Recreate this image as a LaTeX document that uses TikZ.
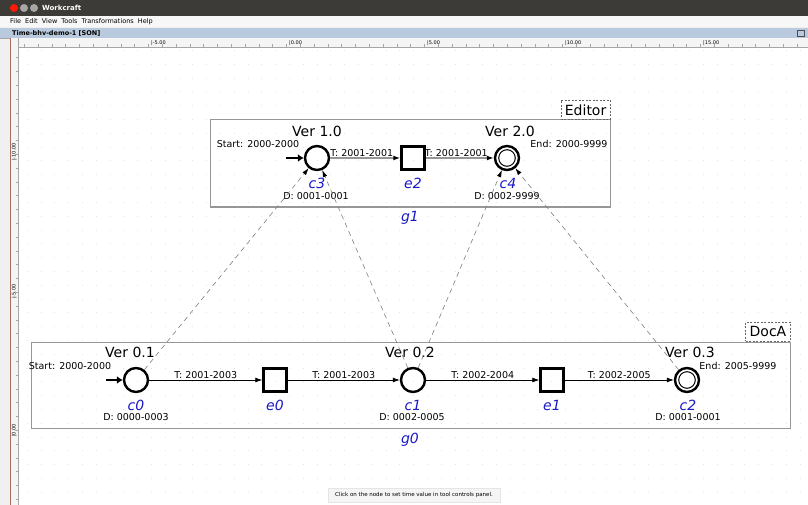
\documentclass[tikz,border=0pt]{standalone}
\usepackage{fontspec}
\setmainfont{DejaVu Sans}
\usetikzlibrary{positioning,arrows.meta}
\definecolor{wcblue}{RGB}{25,25,200}
\definecolor{wcbar}{RGB}{60,59,55}
\definecolor{wctab}{RGB}{186,202,222}
\definecolor{wcline}{RGB}{150,150,150}
\definecolor{wcedge}{RGB}{170,110,95}

\begin{document}
\begin{tikzpicture}[
  x=1pt, y=-1pt,
  big/.style={font=\fontsize{14}{16}\selectfont, inner sep=1pt},
  small/.style={font=\fontsize{9.5}{11}\selectfont, inner sep=1pt},
  nm/.style={font=\fontsize{14}{16}\selectfont\itshape, text=wcblue, inner sep=1pt},
  cond/.style={circle, draw, line width=2.4pt, minimum size=24pt, inner sep=0pt},
  evt/.style={rectangle, draw, line width=2.4pt, minimum size=23pt, inner sep=0pt},
  arc/.style={-{Latex[length=7pt,width=5pt]}, line width=0.8pt},
  hiarc/.style={-{Latex[length=7pt,width=5pt,color=black]}, draw=wcline, line width=1.6pt},
  link/.style={-{Latex[length=7pt,width=4.5pt,color=black]}, draw=gray, line width=0.6pt,
               dash pattern=on 5pt off 4pt},
  start/.style={-{Latex[length=6pt,width=8pt]}, line width=2.8pt},
  group/.style={draw=wcline, line width=1pt, inner sep=0pt},
  tag/.style={draw=gray!80!black, dash pattern=on 2pt off 1.5pt, fill=white,
              font=\fontsize{14}{16}\selectfont, minimum height=19pt, inner xsep=4pt},
  gridline/.style={draw=gray!22, line width=1pt, dash pattern=on 1pt off 12.8pt},
  ui/.style={font=\fontsize{6.5}{7}\selectfont, inner sep=0pt, anchor=west},
]
\useasboundingbox (0,0) rectangle (808,505);

% window
\fill[gray!12] (0,0) rectangle (808,505);
\fill[white] (18,47) rectangle (808,505);
\foreach \y in {50.6,64.4,...,505} \draw[gridline] (26.8,\y) -- (808,\y);
\fill[wcbar] (0,0) rectangle (808,16);
\fill[red!80!orange] (14,8) circle (4);
\fill[gray!70] (24,8) circle (4);
\fill[gray!70] (34,8) circle (4);
\node[ui, text=white, font=\fontsize{7}{8}\selectfont\bfseries] (title) at (42,8) {Workcraft};
\fill[gray!6] (0,16) rectangle (808,27);
\node[ui] (menu) at (10,21.5) {File\ \ Edit\ \ View\ \ Tools\ \ Transformations\ \ Help};
\fill[wctab] (0,28) rectangle (808,38);
\draw[gray!70] (0,38) -- (808,38);
\node[ui, font=\fontsize{6.5}{7}\selectfont\bfseries] (tab) at (12,33) {Time-bhv-demo-1 [SON]};
\draw[gray!60!black] (797,30) rectangle (804,36);
\fill[gray!8] (18,38) rectangle (808,47);
\fill[gray!8] (11,38) rectangle (18,505);
\draw[wcedge, line width=1.2pt] (10.5,38) -- (10.5,505);
\draw[gray!70] (18,47) -- (808,47) (18,38) -- (18,505);
\foreach \x in {24.2,38,...,808} \draw[gray!70] (\x,44.5) -- (\x,47);
\foreach \x/\t in {151/-5.00,289/0.00,427/5.00,565/10.00,703/15.00}
  \node[font=\fontsize{5}{5}\selectfont, inner sep=0pt, anchor=south west] at (\x,46) {|\t};
\foreach \y in {57.6,71.4,...,505} \draw[gray!70] (15.5,\y) -- (18,\y);
\foreach \y/\t in {161/-10.00,299/-5.00,437/0.00}
  \node[font=\fontsize{5}{5}\selectfont, inner sep=0pt, anchor=south west, rotate=90] at (17,\y) {|\t};

% Editor
\node[group, minimum width=400pt, minimum height=87pt] (g1box) at (410,163.5) {};
\node[tag, anchor=south east] (editor) at (g1box.north east) {Editor};
\node[nm] (g1) at (410,218) {g1};

\node[cond] (c3) at (317,158) {};
\node[evt] (e2) at (413,158) {};
\node[cond] (c4) at (507,158) {};
\draw[line width=1pt] (c4.center) circle (8.3);

\node[big] (v10) at (317,131) {Ver 1.0};
\node[big] (v20) at (510,131) {Ver 2.0};
\node[small] (st3) at (258,144) {Start: 2000-2000};
\node[small] (en4) at (569,144) {End: 2000-9999};
\node[nm] (c3n) at (317,183) {c3};
\node[nm] (e2n) at (413,183) {e2};
\node[nm] (c4n) at (508,183) {c4};
\node[small] (d3) at (316,196) {D: 0001-0001};
\node[small] (d4) at (507,196) {D: 0002-9999};

\coordinate (in3) at (286,158);
\draw[start] (in3) -- (c3);
\draw[hiarc] (c3) -- node[small, above, pos=0.45] {T: 2001-2001} (e2);
\draw[hiarc] (e2) -- node[small, above, pos=0.45] {T: 2001-2001} (c4);

% DocA
\node[group, minimum width=759pt, minimum height=86pt] (g0box) at (410.5,385) {};
\node[tag, anchor=south east] (doca) at (g0box.north east) {DocA};
\node[nm] (g0) at (410,440) {g0};

\node[cond] (c0) at (136,380) {};
\node[evt] (e0) at (275,380) {};
\node[cond] (c1) at (413,380) {};
\node[evt] (e1) at (552,380) {};
\node[cond] (c2) at (687,380) {};
\draw[line width=1pt] (c2.center) circle (8.3);

\node[big] (v01) at (130,352) {Ver 0.1};
\node[big] (v02) at (410,352) {Ver 0.2};
\node[big] (v03) at (690,352) {Ver 0.3};
\node[small] (st0) at (70,366) {Start: 2000-2000};
\node[small] (en2) at (738,366) {End: 2005-9999};
\node[nm] (c0n) at (136,405) {c0};
\node[nm] (e0n) at (275,405) {e0};
\node[nm] (c1n) at (413,405) {c1};
\node[nm] (e1n) at (552,405) {e1};
\node[nm] (c2n) at (688,405) {c2};
\node[small] (d0) at (136,417) {D: 0000-0003};
\node[small] (d1) at (412,417) {D: 0002-0005};
\node[small] (d2) at (688,417) {D: 0001-0001};

\coordinate (in0) at (106,380);
\draw[start] (in0) -- (c0);
\draw[arc] (c0) -- node[small, above] {T: 2001-2003} (e0);
\draw[arc] (e0) -- node[small, above] {T: 2001-2003} (c1);
\draw[arc] (c1) -- node[small, above] {T: 2002-2004} (e1);
\draw[arc] (e1) -- node[small, above] {T: 2002-2005} (c2);

% links between the two groups
\draw[link] (c0) -- (c3);
\draw[link] (c1) -- (c3);
\draw[link] (c1) -- (c4);
\draw[link] (c2) -- (c4);

% status
\node[font=\fontsize{5.5}{6}\selectfont, fill=gray!8, draw=gray!20, minimum width=172pt,
      minimum height=14pt, inner sep=1pt] (hint) at (414,495)
  {Click on the node to set time value in tool controls panel.};
\end{tikzpicture}
\end{document}
